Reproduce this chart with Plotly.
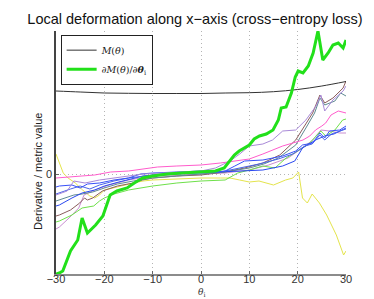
import plotly.graph_objects as go

# ---- data (arbitrary units; 0 marked on y) ----
m_theta = [-30, -25, -20, -15, -10, -5, 0, 5, 10, 15, 20, 25, 30]
m_vals = [83, 82, 81, 80.7, 80.5, 80.5, 80.5, 81, 81.3, 82.3, 84.5, 88, 92.5]

d_theta = [-30, -29.3, -28.6, -27, -25.5, -24.6, -23.5, -21.8, -20.3, -18.8, -17.4, -15.3, -13.8, -12.1,
           -10, -7, -4, 0, 3, 4.8, 5.9, 6.9, 7.9, 9.0, 10, 11, 12.1, 13.5, 14.9, 16.0, 16.6, 17.6,
           18.7, 19.5, 20.1, 21.1, 22.2, 23.2, 24.2, 25.2, 26.3, 27.3, 28.4, 29.4, 30]
d_vals = [-100, -99, -97, -77, -66, -44, -59, -51, -42, -21, -17, -14, -9, -4,
          -2, 0, 1, 2, 3, 6, 13, 19, 23, 26, 29, 35, 38, 40, 44, 54, 66, 67,
          81, 97, 103, 101, 108, 121, 143, 114, 121, 129, 131, 126, 134]

yellow_theta = [-30, -29.5, -28.5, -27.5, -26, -24.5, -23, -22, -21, -20, -18.5, -16.5, -14, -12, -10, -6, 0,
                4, 6, 8, 10, 12, 13.5, 15, 17.5, 19, 20.2, 21, 22, 23, 24.5, 26, 28, 29.5, 30]
yellow_vals = [20, 14, 1, -4, -9, -16, -22, -24, -21, -16, -14, -12, -9, -7, -6, -5, -4,
               -4, -4, -6, -8, -7, -9, -11, -6, -4, 2, -24, -29, -20, -29, -41, -61, -81, -77]

magenta_theta = [-30, -25.5, -22, -18.7, -15, -12, -9, -5, 0, 4, 7.6, 10, 12.8, 15, 16.9, 19, 21.1,
                 22.5, 23.7, 25, 25.8, 26.9, 28.4, 30]
magenta_vals = [-4, -2, -1, 2, 3, 5, 7, 8, 9, 11, 13, 15, 20, 24, 28, 31, 34,
                38, 44, 48, 51, 59, 63, 61]

lavender_theta = [-30, -27.7, -26.3, -24, -21, -18, -15, -12, -8, -4, 0, 3, 6, 8, 10, 12.8, 14.8,
                  16.9, 19.6, 21.7, 23.8, 24.8, 25.6, 27.3, 29.4, 30]
lavender_vals = [-21, -17, -7, -9, -6, -4, -2, 0, 1, 2, 3, 6, 13, 20, 28, 30, 34,
                 43, 44, 54, 68, 79, 63, 74, 83, 88]

brown_theta = [-30, -29.3, -27, -25.1, -24.1, -23.5, -22.4, -20.4, -17.3, -14, -12.1, -10, -5, 0, 5, 9,
               12.8, 16.3, 19.6, 21.7, 23.1, 24.6, 25.6, 27.3, 29.4, 30]
brown_vals = [-42, -41, -36, -29, -24, -26, -24, -17, -12, -9, -6, -4, -2, -1, 2, 6,
              11, 19, 34, 51, 61, 79, 71, 76, 86, 93]

teal_theta = [-30, -29.3, -26.3, -24.6, -22.4, -20, -17.3, -14, -10, -5, 0, 5, 10, 13, 16, 18,
              19.6, 21.7, 23.5, 24.6, 25.6, 27.7, 28.9, 30]
teal_vals = [-27, -26, -21, -20, -18, -14, -10, -7, -4, -2, 0, 2, 6, 10, 16, 23,
             29, 46, 61, 76, 69, 73, 81, 78]

blue1_theta = [-30, -29.3, -26.7, -25, -23.5, -21, -18, -15, -12.5, -10, -5, 0, 3, 5, 7, 9,
               12.8, 16.9, 19.6, 21, 23.1, 24.6, 25.6, 26.6, 28.7, 30]
blue1_vals = [-13, -12, -11, -14, -10, -9, -6, -4, 0, 1, 2, 3, 2, 3, 8, 13,
              14, 18, 23, 29, 31, 41, 36, 43, 44, 48]

blue2_theta = [-30, -29.3, -26.7, -24.6, -22, -20, -17, -14, -12, -10, -5, 0, 5, 10, 12.8, 16.9,
               19.4, 21, 23.7, 25.6, 27.5, 30]
blue2_vals = [-32, -31, -24, -19, -16, -12, -8, -4, -2, -1, 0, 1, 2, 3, 4, 8,
              13, 26, 34, 38, 40, 46]

blue3_theta = [-30, -29.3, -27, -25, -23, -21, -18, -15, -12, -8, -4, 0, 4, 8, 12, 16, 19,
               21.5, 23, 24.6, 25.6, 27, 30]
blue3_vals = [-20, -19, -15, -12, -15, -11, -7, -4, -2, 0, 1, 2, 2, 6, 10, 15, 20,
              28, 30, 39, 34, 40, 45]

lgreen_theta = [-30, -29.3, -26.7, -24.6, -22.2, -21, -20, -18, -15, -12.5, -10, -5, 0, 5, 7.6, 10,
                12.8, 15.3, 17.6, 20, 22.5, 24.8, 25.8, 27.7, 29.3, 30]
lgreen_vals = [-48, -47, -41, -34, -32, -27, -24, -20, -16, -14, -12, -9, -7, -6, 1, 4,
               8, 6, 16, 23, 31, 43, 38, 44, 54, 55]

lilac_theta = [-30, -29.3, -27.3, -25.3, -24.2, -22, -19, -15, -10, -5, 0, 5, 10, 14, 18, 21,
               23.1, 24.8, 26.6, 28.7, 30]
lilac_vals = [-55, -53, -44, -34, -21, -16, -11, -6, -2, -1, 0, 1, 4, 9, 16, 26,
              34, 44, 43, 41, 41]

x_ticks = [-30, -20, -10, 0, 10, 20, 30]
y_ticks = [0]

thin = [
    (yellow_theta, yellow_vals, "#e4e44c"),
    (lilac_theta, lilac_vals, "#c98fd0"),
    (lgreen_theta, lgreen_vals, "#6ee04a"),
    (brown_theta, brown_vals, "#8a5c5c"),
    (teal_theta, teal_vals, "#5f8a92"),
    (blue2_theta, blue2_vals, "#2a48f0"),
    (blue3_theta, blue3_vals, "#4a64e8"),
    (blue1_theta, blue1_vals, "#3850f8"),
    (lavender_theta, lavender_vals, "#a98ad8"),
    (magenta_theta, magenta_vals, "#ff5ccc"),
]

fig = go.Figure()
for th, vals, col in thin:
    fig.add_trace(go.Scatter(x=th, y=vals, mode="lines", line=dict(color=col, width=1),
                             showlegend=False, hoverinfo="skip"))

fig.add_trace(go.Scatter(x=m_theta, y=m_vals, mode="lines", line=dict(color="#333333", width=1),
                         name="<i>M</i>(<i>θ</i>)", line_shape="spline"))
fig.add_trace(go.Scatter(x=d_theta, y=d_vals, mode="lines", line=dict(color="#22e01a", width=3),
                         name="∂<i>M</i>(<i>θ</i>)/∂<b><i>θ</i></b><sub>i</sub>"))

fig.update_layout(
    width=374, height=299,
    margin=dict(l=48, r=36, t=23, b=33),
    paper_bgcolor="white", plot_bgcolor="white",
    title=dict(text="Local deformation along x−axis (cross−entropy loss)",
               x=0.5, xanchor="center", y=0.965, yanchor="middle",
               font=dict(family="Liberation Sans, Arial", size=14.5, color="#111")),
    legend=dict(x=0.016, y=0.985, xanchor="left", yanchor="top",
                bgcolor="white", bordercolor="#222", borderwidth=1,
                font=dict(family="DejaVu Serif, Liberation Serif", size=9.5, color="#222"),
                tracegroupgap=0, itemwidth=30),
    xaxis=dict(range=[-30, 30], tickvals=x_ticks, showgrid=True, gridcolor="#b4b4b4",
               griddash="1px,3px", gridwidth=1, zeroline=False, showline=True,
               linecolor="#8c8c8c", linewidth=2, ticks="inside", ticklen=3, tickcolor="#666",
               ticklabelstandoff=-6,
               tickfont=dict(family="Liberation Sans, Arial", size=11, color="#333")),
    yaxis=dict(range=[-100, 143], tickvals=y_ticks, ticktext=["0"], showgrid=True,
               gridcolor="#b4b4b4", griddash="1px,3px", gridwidth=1, zeroline=False,
               showline=True, linecolor="#444", linewidth=1.5, ticks="inside", ticklen=3,
               tickcolor="#666",
               tickfont=dict(family="Liberation Sans, Arial", size=11, color="#333")),
    annotations=[
        dict(text="Derivative / metric value", textangle=-90, xref="paper", yref="paper",
             x=-0.062, y=0.42, xanchor="center", yanchor="middle", showarrow=False,
             font=dict(family="Liberation Sans, Arial", size=11, color="#222")),
        dict(text="<i>θ</i><sub>i</sub>", xref="x", yref="paper", x=0, y=-0.078,
             xanchor="center", yanchor="middle", showarrow=False,
             font=dict(family="DejaVu Serif, Liberation Serif", size=9, color="#333")),
    ],
)

fig.write_html("out.html")
